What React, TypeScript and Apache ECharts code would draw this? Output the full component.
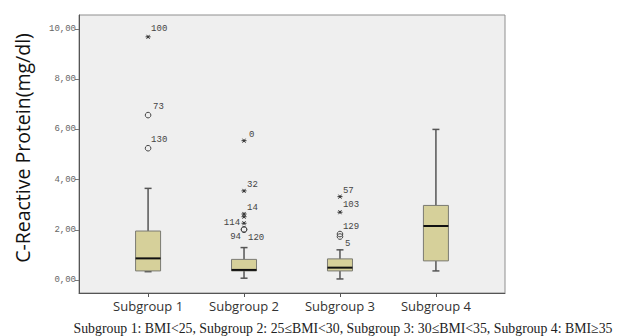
import React, { useEffect, useRef } from "react";
import * as echarts from "echarts";

const categories = ["Subgroup 1", "Subgroup 2", "Subgroup 3", "Subgroup 4"];
const mins = [0.33, 0.07, 0.04, 0.36];
const q1s = [0.36, 0.36, 0.36, 0.76];
const medians = [0.86, 0.4, 0.49, 2.15];
const q3s = [1.95, 0.82, 0.84, 2.97];
const maxs = [3.65, 1.29, 1.2, 6.0];

// outliers
const outlierGroup = [0, 0, 0, 1, 1, 1, 1, 1, 1, 1, 2, 2, 2, 2];
const outlierValue = [9.69, 6.57, 5.25, 5.55, 3.55, 2.63, 2.52, 2.26, 2.02, 2.0, 3.32, 2.7, 1.83, 1.73];
const outlierKind = ["star", "circle", "circle", "star", "star", "star", "star", "star", "circle", "circle", "star", "star", "circle", "circle"];
const outlierLabel = ["100", "73", "130", "0", "32", "14", "", "114", "94", "120", "57", "103", "129", "5"];
// label placement relative to the point: [dx, dy, align]
const labelPlace: [number, number, string][] = [
  [3, -8, "left"], [5, -8, "left"], [3, -8, "left"],
  [5, -6, "left"], [3, -6, "left"], [3, -6, "left"], [0, 0, "left"], [-4, 0, "right"],
  [-3, 8, "right"], [4, 8, "left"],
  [3, -6, "left"], [3, -7, "left"], [3, -7, "left"], [5, 7, "left"],
];

const yTicks = [0, 2, 4, 6, 8, 10];
const xTicks = [0, 1, 2, 3];
const footer = "Subgroup 1: BMI<25, Subgroup 2: 25\u2264BMI<30, Subgroup 3: 30\u2264BMI<35, Subgroup 4: BMI\u226535";

export default function App() {
  const ref = useRef<HTMLDivElement>(null);
  useEffect(() => {
    if (!ref.current) return;
    const chart = echarts.init(ref.current, null, { renderer: "svg" });
    const boxData = categories.map((_, i) => [i, mins[i], q1s[i], medians[i], q3s[i], maxs[i]]);
    const outData = outlierValue.map((v, i) => [outlierGroup[i], v, i]);
    const boxColor = "#d6d09a";
    const option: any = {
      animation: false,
      backgroundColor: "#ffffff",
      grid: {
        left: 79, top: 15, right: 112, bottom: 43,
        show: true, backgroundColor: "#efefef", borderColor: "#8f8f8f", borderWidth: 1,
      },
      xAxis: {
        type: "value", min: -0.72, max: 3.72,
        splitLine: { show: false },
        axisLine: { show: true, onZero: false, lineStyle: { color: "#555", width: 1 } },
        axisTick: { show: true, length: 4, customValues: xTicks, lineStyle: { color: "#555" } },
        axisLabel: {
          customValues: xTicks,
          formatter: (v: number) => categories[Math.round(v)] ?? "",
          fontFamily: "Open Sans", fontSize: 13, color: "#333", margin: 6,
        },
      },
      yAxis: {
        type: "value", min: -0.52, max: 10.56,
        splitLine: { show: false },
        axisLine: { show: true, onZero: false, lineStyle: { color: "#555", width: 1 } },
        axisTick: { show: true, length: 4, customValues: yTicks, lineStyle: { color: "#777" } },
        axisLabel: {
          customValues: yTicks,
          formatter: (v: number) => v.toFixed(2).replace(".", ","),
          fontFamily: "Liberation Mono", fontSize: 9, color: "#666", margin: 3,
        },
      },
      graphic: [
        {
          type: "text", x: 22, y: 148, rotation: Math.PI / 2,
          style: {
            text: "C-Reactive Protein(mg/dl)", fontFamily: "Open Sans", fontSize: 19.5,
            fill: "#111", textAlign: "center", textVerticalAlign: "middle",
          },
        },
        {
          type: "text", x: 343, y: 328,
          style: {
            text: footer, fontFamily: "Liberation Serif", fontSize: 13.8,
            fill: "#222", textAlign: "center", textVerticalAlign: "middle",
          },
        },
      ],
      series: [
        {
          type: "custom",
          data: boxData,
          encode: { x: 0, y: [1, 2, 3, 4, 5] },
          renderItem: (params: any, api: any) => {
            const xi = api.value(0);
            const p = (v: number) => api.coord([xi, v]);
            const [cx, yMin] = p(api.value(1));
            const yQ1 = p(api.value(2))[1];
            const yMed = p(api.value(3))[1];
            const yQ3 = p(api.value(4))[1];
            const yMax = p(api.value(5))[1];
            const hw = 12.5, cw = 3.5;
            const ls = { stroke: "#555", lineWidth: 1.5 };
            return {
              type: "group",
              children: [
                { type: "line", shape: { x1: cx, y1: yMax, x2: cx, y2: yQ3 }, style: ls },
                { type: "line", shape: { x1: cx, y1: yQ1, x2: cx, y2: yMin }, style: ls },
                { type: "line", shape: { x1: cx - cw, y1: yMax, x2: cx + cw, y2: yMax }, style: ls },
                { type: "line", shape: { x1: cx - cw, y1: yMin, x2: cx + cw, y2: yMin }, style: ls },
                {
                  type: "rect", shape: { x: cx - hw, y: yQ3, width: hw * 2, height: yQ1 - yQ3 },
                  style: { fill: boxColor, stroke: "#7a7a72", lineWidth: 1 },
                },
                { type: "line", shape: { x1: cx - hw, y1: yMed, x2: cx + hw, y2: yMed }, style: { stroke: "#111", lineWidth: 2 } },
              ],
            };
          },
        },
        {
          type: "custom",
          data: outData,
          encode: { x: 0, y: 1 },
          renderItem: (params: any, api: any) => {
            const idx = api.value(2);
            const [cx, cy] = api.coord([api.value(0), api.value(1)]);
            const children: any[] = [];
            if (outlierKind[idx] === "star") {
              const r = 2.5;
              const st = { stroke: "#333", lineWidth: 1 };
              children.push({ type: "line", shape: { x1: cx - r, y1: cy, x2: cx + r, y2: cy }, style: st });
              children.push({ type: "line", shape: { x1: cx - r * 0.6, y1: cy - r * 0.8, x2: cx + r * 0.6, y2: cy + r * 0.8 }, style: st });
              children.push({ type: "line", shape: { x1: cx - r * 0.6, y1: cy + r * 0.8, x2: cx + r * 0.6, y2: cy - r * 0.8 }, style: st });
            } else {
              children.push({ type: "circle", shape: { cx, cy, r: 2.8 }, style: { fill: "none", stroke: "#444", lineWidth: 1 } });
            }
            const lab = outlierLabel[idx];
            if (lab) {
              const [dx, dy, al] = labelPlace[idx];
              children.push({
                type: "text", x: cx + dx, y: cy + dy,
                style: {
                  text: lab, fontFamily: "Liberation Mono", fontSize: 9, fill: "#444",
                  textAlign: al, textVerticalAlign: "middle",
                },
              });
            }
            return { type: "group", children };
          },
        },
      ],
    };
    chart.setOption(option);
    return () => chart.dispose();
  }, []);
  return <div ref={ref} style={{ position: "absolute", left: 0, top: 0, width: 617, height: 336 }} />;
}
